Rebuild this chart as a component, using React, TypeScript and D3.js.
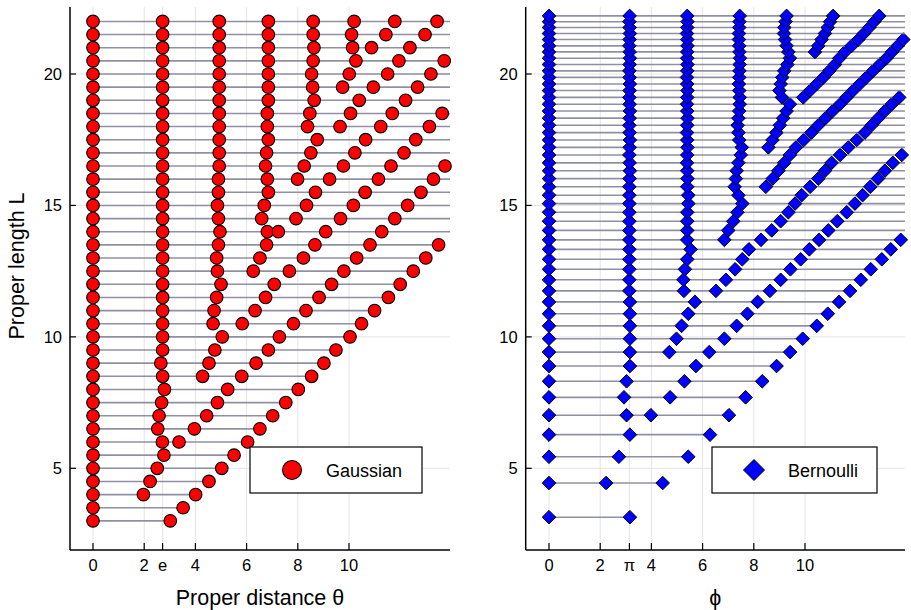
import React from 'react'
import * as d3 from 'd3'

// Gaussian panel: proper length L of each row, and proper distances θ of the points on it
const gaussL = [3, 3.5, 4, 4.5, 5, 5.5, 6, 6.5, 7, 7.5, 8, 8.5, 9, 9.5, 10, 10.5, 11, 11.5, 12, 12.5,
  13, 13.5, 14, 14.5, 15, 15.5, 16, 16.5, 17, 17.5, 18, 18.5, 19, 19.5, 20, 20.5, 21, 21.5, 22]

const gaussTheta = [
  [0, 3.02],
  [0, 3.52],
  [0, 1.97, 4.01],
  [0, 2.23, 4.53],
  [0, 2.51, 5.03],
  [0, 2.77, 5.51],
  [0, 2.71, 3.36, 6.04],
  [0, 2.53, 3.96, 6.52],
  [0, 2.58, 4.44, 7.02],
  [0, 2.68, 4.86, 7.53],
  [0, 2.79, 5.26, 8.02],
  [0, 2.72, 4.28, 5.81, 8.54],
  [0, 2.65, 4.53, 6.37, 9.02],
  [0, 2.72, 4.76, 6.85, 9.49],
  [0, 2.72, 5.05, 7.28, 10.04],
  [0, 2.72, 4.69, 5.83, 7.83, 10.49],
  [0, 2.72, 4.73, 6.33, 8.32, 11.0],
  [0, 2.72, 4.83, 6.74, 8.83, 11.54],
  [0, 2.72, 5.0, 7.08, 9.32, 12.0],
  [0, 2.72, 4.86, 6.26, 7.67, 9.8, 12.51],
  [0, 2.72, 4.83, 6.52, 8.22, 10.3, 13.0],
  [0, 2.72, 4.9, 6.78, 8.67, 10.82, 13.5],
  [0, 2.72, 4.96, 6.81, 7.24, 9.09, 11.28],
  [0, 2.72, 4.9, 6.59, 7.93, 9.67, 11.79],
  [0, 2.72, 4.86, 6.69, 8.34, 10.17, 12.29],
  [0, 2.72, 4.9, 6.85, 8.69, 10.63, 12.81],
  [0, 2.72, 4.9, 6.81, 7.99, 9.24, 11.15, 13.3],
  [0, 2.72, 4.93, 6.74, 8.25, 9.78, 11.64, 13.75],
  [0, 2.72, 4.93, 6.78, 8.51, 10.23, 12.15],
  [0, 2.72, 4.93, 6.85, 8.76, 10.65, 12.61],
  [0, 2.72, 4.93, 6.81, 8.38, 9.65, 11.24, 13.14],
  [0, 2.72, 4.93, 6.81, 8.47, 10.06, 11.69, 13.64],
  [0, 2.72, 4.93, 6.85, 8.64, 10.4, 12.21],
  [0, 2.72, 4.93, 6.85, 8.58, 9.75, 10.95, 12.68],
  [0, 2.72, 4.93, 6.85, 8.54, 10.01, 11.51, 13.2],
  [0, 2.72, 4.93, 6.85, 8.6, 10.27, 11.95, 13.72],
  [0, 2.72, 4.93, 6.85, 8.63, 10.14, 10.88, 12.38],
  [0, 2.72, 4.93, 6.85, 8.6, 10.1, 11.44, 12.97],
  [0, 2.72, 4.93, 6.85, 8.6, 10.2, 11.79, 13.44],
]

// Bernoulli panel
const bernL = [3.14, 4.44, 5.44, 6.28, 7.02, 7.70, 8.31, 8.89, 9.42, 9.93, 10.42, 10.88, 11.33, 11.75,
  12.17, 12.57, 12.95, 13.33, 13.69, 14.05, 14.40, 14.74, 15.07, 15.39, 15.71, 16.02, 16.32, 16.62,
  16.92, 17.21, 17.49, 17.77, 18.05, 18.32, 18.59, 18.85, 19.11, 19.37, 19.62, 19.87, 20.12, 20.36,
  20.60, 20.84, 21.07, 21.31, 21.54, 21.77, 21.99, 22.21]

const bernPhi = [
  [0, 3.16],
  [0, 2.23, 4.44],
  [0, 2.73, 5.44],
  [0, 3.16, 6.29],
  [0, 3.03, 3.98, 7.03],
  [0, 2.93, 4.73, 7.68],
  [0, 3.03, 5.29, 8.33],
  [0, 3.16, 5.74, 8.89],
  [0, 3.16, 4.7, 6.26, 9.42],
  [0, 3.16, 4.98, 6.85, 9.91],
  [0, 3.16, 5.18, 7.33, 10.46],
  [0, 3.16, 5.44, 7.75, 10.89],
  [0, 3.16, 5.7, 8.15, 11.33],
  [0, 3.14, 5.27, 6.52, 8.63, 11.76],
  [0, 3.14, 5.25, 6.91, 9.05, 12.18],
  [0, 3.14, 5.31, 7.27, 9.43, 12.57],
  [0, 3.14, 5.4, 7.55, 9.83, 13.0],
  [0, 3.14, 5.53, 7.81, 10.17, 13.35],
  [0, 3.14, 5.4, 6.85, 8.28, 10.55, 13.74],
  [0, 3.14, 5.4, 7.0, 8.7, 10.91],
  [0, 3.14, 5.4, 7.2, 9.05, 11.26],
  [0, 3.14, 5.4, 7.36, 9.35, 11.63],
  [0, 3.14, 5.44, 7.55, 9.61, 11.95],
  [0, 3.14, 5.44, 7.4, 9.87, 12.25],
  [0, 3.14, 5.4, 7.25, 8.47, 10.2, 12.55],
  [0, 3.15, 5.41, 7.3, 8.74, 10.52, 12.85],
  [0, 3.16, 5.4, 7.33, 8.96, 10.78, 13.12],
  [0, 3.15, 5.39, 7.4, 9.19, 11.04, 13.43],
  [0, 3.14, 5.4, 7.49, 9.41, 11.37, 13.78],
  [0, 3.15, 5.41, 7.53, 8.57, 9.65, 11.69],
  [0, 3.16, 5.4, 7.43, 8.73, 9.95, 12.02],
  [0, 3.15, 5.39, 7.4, 8.88, 10.25, 12.34],
  [0, 3.14, 5.4, 7.37, 9.02, 10.52, 12.6],
  [0, 3.15, 5.41, 7.4, 9.15, 10.8, 12.86],
  [0, 3.16, 5.4, 7.43, 9.28, 11.08, 13.12],
  [0, 3.15, 5.39, 7.45, 9.41, 11.37, 13.39],
  [0, 3.14, 5.4, 7.45, 9.1, 9.93, 11.62, 13.68],
  [0, 3.15, 5.41, 7.43, 9.0, 10.2, 11.88],
  [0, 3.16, 5.4, 7.42, 9.05, 10.46, 12.14],
  [0, 3.15, 5.39, 7.43, 9.11, 10.72, 12.4],
  [0, 3.14, 5.4, 7.44, 9.19, 10.95, 12.66],
  [0, 3.15, 5.41, 7.45, 9.31, 11.17, 12.92],
  [0, 3.16, 5.4, 7.46, 9.41, 11.34, 13.18],
  [0, 3.15, 5.4, 7.44, 9.35, 10.39, 11.56, 13.4],
  [0, 3.14, 5.41, 7.43, 9.28, 10.52, 11.82, 13.62],
  [0, 3.15, 5.4, 7.42, 9.22, 10.65, 12.08, 13.84],
  [0, 3.16, 5.39, 7.42, 9.18, 10.78, 12.3],
  [0, 3.15, 5.4, 7.43, 9.19, 10.89, 12.51],
  [0, 3.14, 5.41, 7.44, 9.24, 10.98, 12.7],
  [0, 3.15, 5.4, 7.45, 9.28, 11.1, 12.9],
]

const gaussTicks = [0, 2, Math.E, 4, 6, 8, 10]
const gaussTickLabels = ['0', '2', 'e', '4', '6', '8', '10']
const bernTicks = [0, 2, Math.PI, 4, 6, 8, 10]
const bernTickLabels = ['0', '2', 'π', '4', '6', '8', '10']
const yTicks = [5, 10, 15, 20]

const W = 911, H = 610
const top = 7, bottom = 550
const font = '"Liberation Sans", Arial, Helvetica, sans-serif'

const y = d3.scaleLinear().domain([5, 20]).range([468.3, 74])

function Panel({left, right, x0, rowsL, rowsX, ticks, tickLabels, xTitle, marker, legend, legendBox}) {
  const x = d3.scaleLinear().domain([0, 10]).range([x0, x0 + 256])
  const xMax = x.invert(right)
  const lineEnd = (L) => x(Math.min(L, xMax))
  const pointsFor = (r) => r.filter(v => v <= xMax)

  const drawMarker = (cx, cy, big, key) => {
    if (marker === 'circle') {
      return <circle key={key} cx={cx} cy={cy} r={big ? 9.5 : 6.3} fill="#ff0000" stroke="#000" strokeWidth={1.1} />
    }
    const s = big ? 10.5 : 6.8
    const d = d3.path()
    d.moveTo(cx, cy - s); d.lineTo(cx + s, cy); d.lineTo(cx, cy + s); d.lineTo(cx - s, cy); d.closePath()
    return <path key={key} d={d.toString()} fill="#0000ff" stroke="#000" strokeWidth={1} />
  }

  return (
    <g>
      {/* grid */}
      {ticks.map((t, i) => (
        <line key={'gx' + i} x1={x(t)} x2={x(t)} y1={top} y2={bottom} stroke="#e4e4e4" strokeWidth={1} />
      ))}
      {yTicks.map((t, i) => (
        <line key={'gy' + i} x1={left} x2={right} y1={y(t)} y2={y(t)} stroke="#e4e4e4" strokeWidth={1} />
      ))}

      {/* rows */}
      {rowsL.map((L, i) => (
        <g key={'row' + i}>
          <line x1={x(0)} x2={lineEnd(L)} y1={y(L)} y2={y(L)} stroke="#84849a" strokeOpacity={0.9} strokeWidth={1.6} />
          {pointsFor(rowsX[i]).map((v, j) => drawMarker(x(v), y(L), false, j))}
        </g>
      ))}

      {/* axes */}
      <line x1={left} x2={left} y1={top} y2={bottom} stroke="#000" strokeWidth={1.5} />
      <line x1={left} x2={right} y1={bottom} y2={bottom} stroke="#000" strokeWidth={1.5} />
      {ticks.map((t, i) => (
        <g key={'tx' + i}>
          <line x1={x(t)} x2={x(t)} y1={bottom} y2={bottom - 7} stroke="#000" strokeWidth={1.2} />
          <text x={x(t)} y={571} textAnchor="middle" fontSize={16.5} fontFamily={font}>{tickLabels[i]}</text>
        </g>
      ))}
      {yTicks.map((t, i) => (
        <g key={'ty' + i}>
          <line x1={left} x2={left + 6} y1={y(t)} y2={y(t)} stroke="#000" strokeWidth={1.2} />
          <text x={left - 8} y={y(t) + 5.8} textAnchor="end" fontSize={16.5} fontFamily={font}>{t}</text>
        </g>
      ))}
      <text x={(left + right) / 2} y={605} textAnchor="middle" fontSize={21.5} fontFamily={font}>{xTitle}</text>

      {/* legend */}
      <rect x={legendBox[0]} y={legendBox[1]} width={legendBox[2]} height={legendBox[3]} fill="#fff" stroke="#000" strokeWidth={1.2} />
      {drawMarker(legendBox[0] + 42, legendBox[1] + legendBox[3] / 2, true, 'leg')}
      <text x={legendBox[0] + 76} y={legendBox[1] + legendBox[3] / 2 + 6.5} fontSize={18} fontFamily={font}>{legend}</text>
    </g>
  )
}

export default function App() {
  return (
    <svg width={W} height={H} style={{position: 'absolute', left: 0, top: 0, background: '#fff'}}>
      <rect width={W} height={H} fill="#fff" />
      <Panel left={70} right={450} x0={93} rowsL={gaussL} rowsX={gaussTheta}
        ticks={gaussTicks} tickLabels={gaussTickLabels} xTitle="Proper distance  θ"
        marker="circle" legend="Gaussian" legendBox={[250, 447, 172, 46]} />
      <Panel left={525.7} right={905} x0={549} rowsL={bernL} rowsX={bernPhi}
        ticks={bernTicks} tickLabels={bernTickLabels} xTitle="ϕ"
        marker="diamond" legend="Bernoulli" legendBox={[712, 447, 165, 46]} />
      <text transform="translate(24, 266) rotate(-90)" textAnchor="middle" fontSize={21.5} fontFamily={font}>Proper length L</text>
    </svg>
  )
}
